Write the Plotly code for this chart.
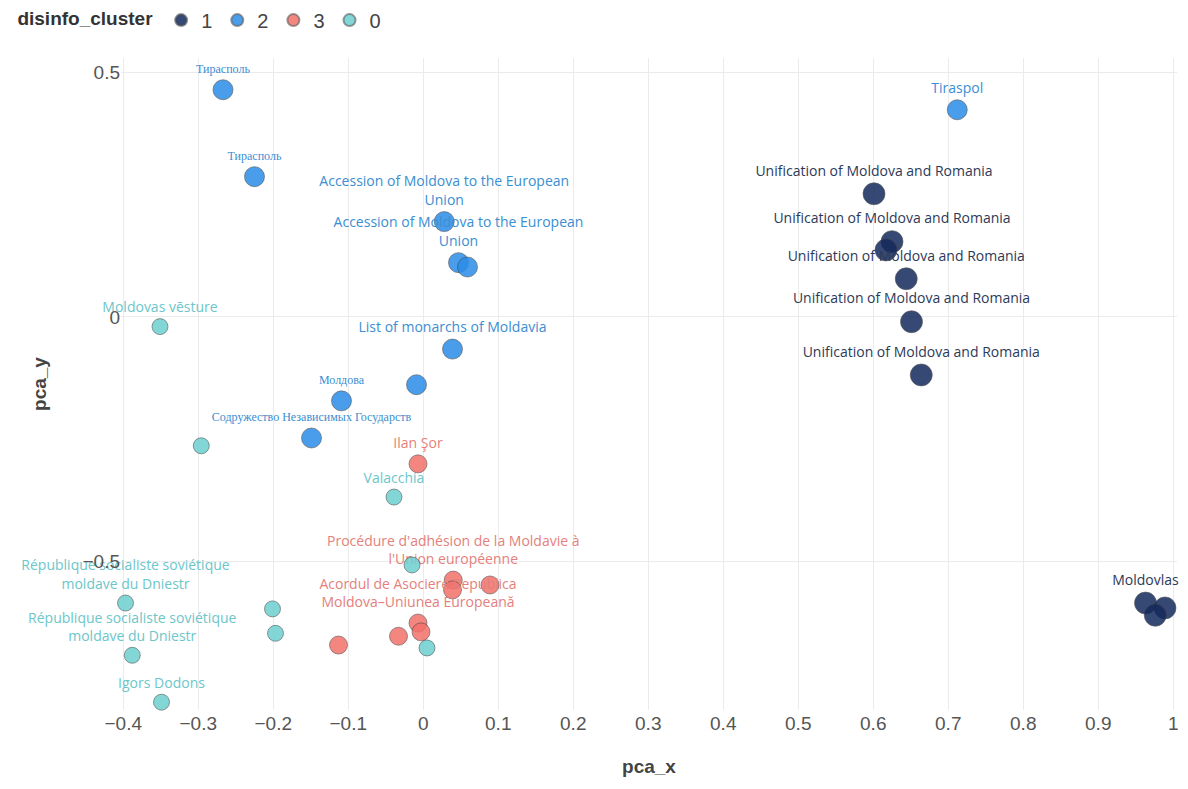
import plotly.graph_objects as go

# ---- data ----
labels = [
    # cluster 1
    "Unification of Moldova and Romania", "Unification of Moldova and Romania", "",
    "Unification of Moldova and Romania", "Unification of Moldova and Romania",
    "Unification of Moldova and Romania", "Moldovlas", "", "",
    # cluster 2
    "Тирасполь", "Тирасполь", "Accession of Moldova to the European<br>Union",
    "Accession of Moldova to the European<br>Union", "", "Tiraspol",
    "List of monarchs of Moldavia", "", "Молдова", "Содружество Независимых Государств",
    # cluster 3
    "Ilan Şor", "Procédure d'adhésion de la Moldavie à<br>l'Union européenne", "", "",
    "Acordul de Asociere Republica<br>Moldova–Uniunea Europeană", "", "", "",
    # cluster 0
    "Moldovas vēsture", "", "Valacchia", "",
    "République socialiste soviétique<br>moldave du Dniestr",
    "République socialiste soviétique<br>moldave du Dniestr",
    "", "", "Igors Dodons", "",
]
pca_x = [
    0.601, 0.625, 0.617, 0.644, 0.651, 0.664, 0.963, 0.989, 0.976,
    -0.267, -0.225, 0.028, 0.047, 0.059, 0.712, 0.039, -0.009, -0.109, -0.149,
    -0.007, 0.040, 0.039, 0.089, -0.007, -0.003, -0.033, -0.113,
    -0.351, -0.296, -0.039, -0.015, -0.397, -0.388, -0.201, -0.197, -0.349, 0.005,
]
pca_y = [
    0.252, 0.154, 0.137, 0.078, -0.010, -0.119, -0.586, -0.596, -0.611,
    0.465, 0.287, 0.195, 0.111, 0.102, 0.424, -0.066, -0.139, -0.172, -0.248,
    -0.301, -0.539, -0.559, -0.549, -0.627, -0.645, -0.654, -0.672,
    -0.020, -0.264, -0.369, -0.508, -0.586, -0.693, -0.598, -0.648, -0.789, -0.678,
]
clusters = ["1"] * 9 + ["2"] * 10 + ["3"] * 8 + ["0"] * 10
cluster_order = ["1", "2", "3", "0"]

# ---- styles ----
marker_colors = {"1": "#142a5c", "2": "#2b8de8", "3": "#f3716b", "0": "#6dcfd0"}
label_colors = {"1": "#2c3a58", "2": "#3a8ed2", "3": "#e57f7c", "0": "#6cc6ca"}
marker_sizes = {"1": 22, "2": 20, "3": 18, "0": 16}


def is_cyrillic(s):
    return any("\u0400" <= ch <= "\u04FF" for ch in s)


fig = go.Figure()
for c in cluster_order:
    idx = [i for i, k in enumerate(clusters) if k == c]
    txt = [labels[i] for i in idx]
    fams = ["Liberation Serif" if is_cyrillic(t) else "Open Sans" for t in txt]
    sizes = [12 if is_cyrillic(t) else 14 for t in txt]
    fig.add_trace(go.Scatter(
        x=[pca_x[i] for i in idx],
        y=[pca_y[i] for i in idx],
        mode="markers+text",
        name=c,
        text=txt,
        textposition="top center",
        textfont=dict(color=label_colors[c], size=sizes, family=fams),
        cliponaxis=False,
        marker=dict(size=marker_sizes[c], color=marker_colors[c], opacity=0.85,
                    line=dict(color="rgba(60,60,60,0.6)", width=1)),
    ))

fig.update_layout(
    width=1188, height=789,
    margin=dict(l=113, r=19, t=50, b=87, autoexpand=False),
    plot_bgcolor="white", paper_bgcolor="white",
    font=dict(family="Liberation Sans", color="#444"),
    legend=dict(
        title=dict(text="<b>disinfo_cluster</b>", font=dict(size=19, color="#333")),
        orientation="h", x=-0.1, xanchor="left", y=1.088, yanchor="top",
        font=dict(size=20, color="#444"), itemsizing="constant",
        itemwidth=30, tracegroupgap=0,
    ),
    xaxis=dict(
        range=[-0.403, 1.005], dtick=0.1, tick0=0, automargin=False,
        showgrid=True, gridcolor="#ebebeb", zeroline=False,
        tickfont=dict(size=19, color="#555", family="Liberation Sans"),
        title=dict(text="<b>pca_x</b>", font=dict(size=19, color="#444"), standoff=26),
        showline=False, ticks="",
    ),
    yaxis=dict(
        range=[-0.805, 0.53], dtick=0.5, tick0=0, automargin=False,
        showgrid=True, gridcolor="#ebebeb", zeroline=False,
        tickfont=dict(size=19, color="#555", family="Liberation Sans"),
        title=dict(text="<b>pca_y</b>", font=dict(size=19, color="#444"), standoff=30),
        showline=False, ticks="",
    ),
)

fig.write_html("out.html")
